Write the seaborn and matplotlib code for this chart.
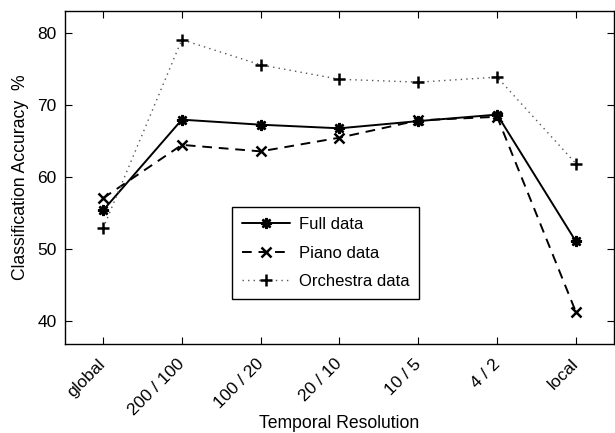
import matplotlib
matplotlib.use('Agg')
import matplotlib.pyplot as plt
import matplotlib.transforms as mtransforms
import seaborn as sns
import pandas as pd

# Classification accuracy vs temporal resolution
resolutions = ['global', '200 / 100', '100 / 20', '20 / 10', '10 / 5', '4 / 2', 'local']
full_data = [55.4, 68.0, 67.3, 66.8, 67.8, 68.7, 51.1]
piano_data = [57.1, 64.5, 63.6, 65.5, 67.9, 68.4, 41.3]
orchestra_data = [52.9, 79.1, 75.6, 73.6, 73.2, 73.9, 61.9]

sns.set_style('ticks', {'axes.edgecolor': 'black', 'text.color': 'black',
                        'axes.labelcolor': 'black', 'xtick.color': 'black',
                        'ytick.color': 'black'})
plt.rcParams['font.family'] = ['Liberation Sans', 'DejaVu Sans']

fig = plt.figure(figsize=(6.15, 4.33), dpi=100)
ax = fig.add_axes([0.106, 0.206, 0.892, 0.769])

series = [
    ('Full data', full_data, '-', (8, 2, 0), 1.4, 'black', 8),
    ('Piano data', piano_data, (0, (5, 3.5)), 'x', 1.4, 'black', 6.5),
    ('Orchestra data', orchestra_data, (0, (1, 3)), '+', 1.0, '#555555', 8),
]
for name, vals, ls, mk, lw, col, ms in series:
    df = pd.DataFrame({'x': range(len(resolutions)), 'y': vals})
    sns.lineplot(data=df, x='x', y='y', ax=ax, color=col, linestyle=ls, linewidth=lw,
                 marker=mk, markersize=ms, markeredgewidth=1.8, markeredgecolor='black',
                 markerfacecolor='black', label=name)

ax.set_xlim(-0.48, 6.48)
ax.set_ylim(36.9, 83.1)
ax.set_xticks(range(len(resolutions)))
ax.set_xticklabels(resolutions, rotation=45, ha='right', va='top', rotation_mode='anchor')
ax.set_yticks([40, 50, 60, 70, 80])
ax.tick_params(direction='in', top=True, right=True, labelsize=12.5, length=5, width=0.8)
ax.tick_params(axis='x', pad=9)
ax.tick_params(axis='y', pad=6)
shift = mtransforms.ScaledTranslation(-5 / 100, 0, fig.dpi_scale_trans)
for lab in ax.get_xticklabels():
    lab.set_transform(lab.get_transform() + shift)
for s in ax.spines.values():
    s.set_linewidth(1.0)

ax.set_xlabel('Temporal Resolution', fontsize=12.7)
ax.xaxis.set_label_coords(0.5, -0.213)
ax.set_ylabel('Classification Accuracy  %', fontsize=12.7)
ax.yaxis.set_label_coords(-0.066, 0.5)

leg = ax.legend(loc='lower left', bbox_to_anchor=(0.304, 0.135), fontsize=12,
                frameon=True, fancybox=False, edgecolor='black', framealpha=1,
                handlelength=2.9, borderpad=0.6, labelspacing=0.8, handletextpad=0.5,
                borderaxespad=0)
leg.get_frame().set_linewidth(1.0)

fig.savefig('out.png', dpi=100)
